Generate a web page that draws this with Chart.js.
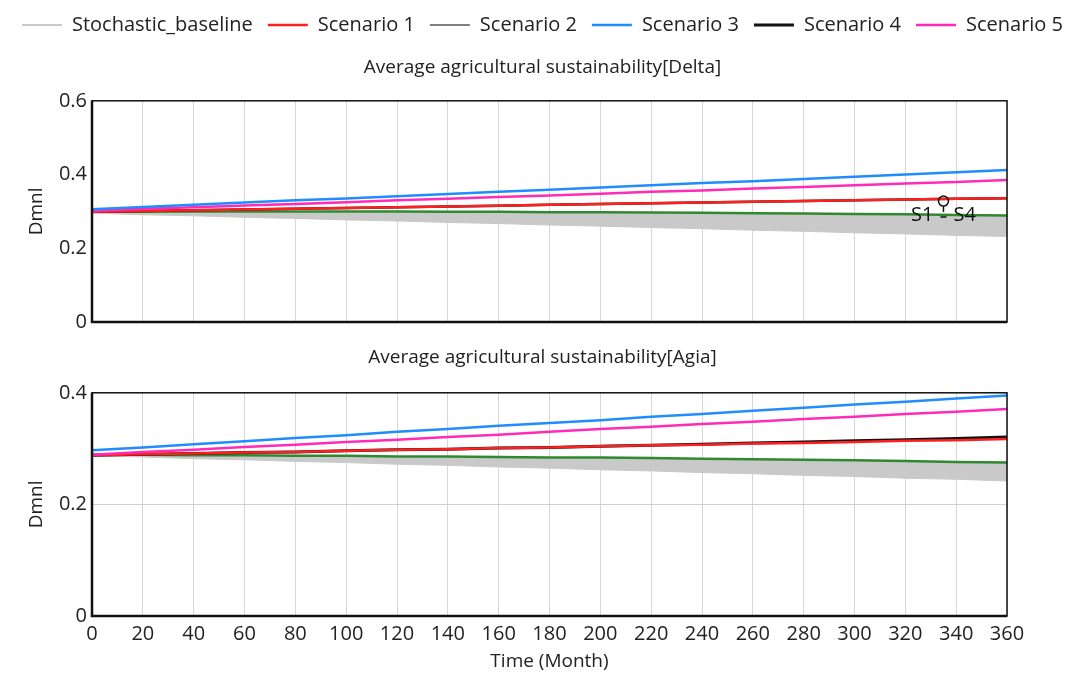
<!DOCTYPE html>
<html>
<head>
<meta charset="utf-8">
<script src="https://cdn.jsdelivr.net/npm/chart.js@4.4.1/dist/chart.umd.min.js"></script>
<style>
  html, body { margin: 0; padding: 0; background: #fff; }
  .panel { position: absolute; left: 0; width: 1085px; }
  #topWrap { top: 0; height: 339px; z-index: 2; }
  #botWrap { top: 335px; height: 338px; z-index: 1; }
</style>
</head>
<body>
<div class="panel" id="topWrap"><canvas id="deltaChart"></canvas></div>
<div class="panel" id="botWrap"><canvas id="agiaChart"></canvas></div>
<script>
const months = [0, 20, 40, 60, 80, 100, 120, 140, 160, 180, 200, 220, 240, 260, 280, 300, 320, 340, 360];
const xTicks = [0, 20, 40, 60, 80, 100, 120, 140, 160, 180, 200, 220, 240, 260, 280, 300, 320, 340, 360];

const legendNames = ['Stochastic_baseline', 'Scenario 1', 'Scenario 2', 'Scenario 3', 'Scenario 4', 'Scenario 5'];

// Delta
const deltaBandHigh = [0.297, 0.297, 0.297, 0.297, 0.297, 0.296, 0.296, 0.296, 0.295, 0.295, 0.294, 0.294, 0.293, 0.292, 0.291, 0.290, 0.289, 0.288, 0.287];
const deltaBandLow = [0.295, 0.291, 0.288, 0.284, 0.281, 0.277, 0.274, 0.270, 0.267, 0.263, 0.260, 0.256, 0.253, 0.249, 0.246, 0.242, 0.239, 0.235, 0.232];
const deltaS1 = [0.299, 0.301, 0.303, 0.305, 0.307, 0.309, 0.311, 0.313, 0.315, 0.318, 0.320, 0.322, 0.324, 0.326, 0.328, 0.330, 0.332, 0.334, 0.336];
const deltaS2 = [0.299, 0.299, 0.300, 0.300, 0.300, 0.300, 0.300, 0.299, 0.299, 0.298, 0.298, 0.297, 0.296, 0.295, 0.294, 0.293, 0.292, 0.290, 0.289];
const deltaS3 = [0.306, 0.312, 0.318, 0.324, 0.330, 0.335, 0.341, 0.347, 0.353, 0.359, 0.365, 0.371, 0.377, 0.382, 0.388, 0.394, 0.400, 0.406, 0.412];
const deltaS4 = [0.299, 0.301, 0.303, 0.305, 0.307, 0.309, 0.311, 0.313, 0.315, 0.318, 0.320, 0.322, 0.324, 0.326, 0.328, 0.330, 0.332, 0.334, 0.336];
const deltaS5 = [0.302, 0.307, 0.311, 0.316, 0.320, 0.325, 0.330, 0.334, 0.339, 0.343, 0.348, 0.353, 0.357, 0.362, 0.366, 0.371, 0.376, 0.380, 0.385];
const deltaYTicks = [0, 0.2, 0.4, 0.6];

// Agia
const agiaBandHigh = [0.288, 0.288, 0.287, 0.287, 0.286, 0.286, 0.285, 0.285, 0.284, 0.283, 0.283, 0.282, 0.281, 0.280, 0.279, 0.278, 0.277, 0.275, 0.274];
const agiaBandLow = [0.287, 0.285, 0.282, 0.280, 0.277, 0.275, 0.272, 0.270, 0.267, 0.265, 0.262, 0.260, 0.257, 0.255, 0.252, 0.250, 0.247, 0.245, 0.242];
const agiaS1 = [0.288, 0.290, 0.291, 0.293, 0.294, 0.296, 0.298, 0.299, 0.301, 0.302, 0.304, 0.306, 0.307, 0.309, 0.310, 0.312, 0.314, 0.315, 0.317];
const agiaS2 = [0.289, 0.289, 0.288, 0.288, 0.287, 0.287, 0.286, 0.286, 0.285, 0.284, 0.284, 0.283, 0.282, 0.281, 0.280, 0.279, 0.278, 0.276, 0.275];
const agiaS3 = [0.297, 0.302, 0.308, 0.313, 0.319, 0.324, 0.330, 0.335, 0.341, 0.346, 0.351, 0.357, 0.362, 0.368, 0.373, 0.379, 0.384, 0.390, 0.395];
const agiaS4 = [0.288, 0.290, 0.291, 0.293, 0.294, 0.296, 0.298, 0.299, 0.301, 0.302, 0.304, 0.306, 0.308, 0.310, 0.312, 0.314, 0.316, 0.318, 0.321];
const agiaS5 = [0.289, 0.294, 0.298, 0.303, 0.307, 0.312, 0.316, 0.321, 0.325, 0.330, 0.335, 0.339, 0.344, 0.348, 0.353, 0.357, 0.362, 0.366, 0.371];
const agiaYTicks = [0, 0.2, 0.4];

const FONT = "'Open Sans', 'Noto Sans', sans-serif";
const colors = {
  band: '#c9c9c9',
  s1: '#ff1f1f',
  s2: '#2f8a2f',
  s3: '#1f8cff',
  s4: '#111111',
  s5: '#ff2bb8'
};
const legendColors = ['#b9b9b9', '#ff1f1f', '#555555', '#1f8cff', '#111111', '#ff2bb8'];
const legendWidths = [1.5, 2.5, 1.5, 2.5, 3, 2.5];

const pts = (vals) => months.map((m, i) => ({ x: m, y: vals[i] }));

function buildDatasets(band, s1, s2, s3, s4, s5, s4Width) {
  // first dataset is painted last (on top)
  return [
    { label: 'Scenario 3', data: pts(s3), borderColor: colors.s3, borderWidth: 2.5 },
    { label: 'Scenario 5', data: pts(s5), borderColor: colors.s5, borderWidth: 2.5 },
    { label: 'Scenario 1', data: pts(s1), borderColor: colors.s1, borderWidth: 2.5 },
    { label: 'Scenario 4', data: pts(s4), borderColor: colors.s4, borderWidth: s4Width },
    { label: 'Scenario 2', data: pts(s2), borderColor: colors.s2, borderWidth: 2.5 },
    { label: 'Stochastic_baseline', data: pts(band[0]), borderColor: colors.band, backgroundColor: colors.band, borderWidth: 1, fill: '+1' },
    { label: 'Stochastic_baseline low', data: pts(band[1]), borderColor: colors.band, borderWidth: 1, fill: false }
  ];
}

const frame = {
  id: 'frame',
  afterDatasetsDraw(chart) {
    const a = chart.chartArea;
    const ctx = chart.ctx;
    ctx.save();
    ctx.strokeStyle = '#111';
    ctx.lineWidth = 1.5;
    ctx.strokeRect(a.left, a.top, a.right - a.left, a.bottom - a.top);
    ctx.lineWidth = 2.5;
    ctx.beginPath();
    ctx.moveTo(a.left, a.top);
    ctx.lineTo(a.left, a.bottom);
    ctx.lineTo(a.right, a.bottom);
    ctx.stroke();
    ctx.restore();
  }
};

const marker = {
  id: 'marker',
  afterDatasetsDraw(chart) {
    if (chart.canvas.id !== 'deltaChart') return;
    const xs = chart.scales.x, ys = chart.scales.y;
    const cx = xs.getPixelForValue(335);
    const cy = ys.getPixelForValue(0.29);
    const ctx = chart.ctx;
    ctx.save();
    ctx.fillStyle = '#111';
    ctx.font = '20px ' + FONT;
    ctx.textBaseline = 'middle';
    ctx.textAlign = 'right';
    ctx.fillText('S1', cx - 10, cy);
    ctx.textAlign = 'left';
    ctx.fillText('S4', cx + 10, cy);
    ctx.strokeStyle = '#111';
    ctx.lineWidth = 1.5;
    ctx.beginPath();
    ctx.arc(cx, cy - 14, 5, 0, Math.PI * 2);
    ctx.moveTo(cx, cy - 9);
    ctx.lineTo(cx, cy - 3);
    ctx.moveTo(cx - 3, cy + 2);
    ctx.lineTo(cx + 3, cy + 2);
    ctx.stroke();
    ctx.restore();
  }
};

function makeOptions(opts) {
  return {
    responsive: true,
    maintainAspectRatio: false,
    animation: false,
    layout: { padding: 0 },
    elements: { point: { radius: 0 }, line: { tension: 0 } },
    plugins: {
      filler: { drawTime: 'beforeDatasetsDraw' },
      tooltip: { enabled: false },
      legend: opts.legend ? {
        display: true,
        position: 'top',
        weight: 3000,
        labels: {
          usePointStyle: true,
          pointStyleWidth: 40,
          boxHeight: 20,
          padding: 15,
          color: '#222',
          font: { family: FONT, size: 20 },
          generateLabels: () => legendNames.map((name, i) => ({
            text: name,
            fillStyle: legendColors[i],
            strokeStyle: legendColors[i],
            lineWidth: legendWidths[i],
            pointStyle: 'line',
            hidden: false,
            fontColor: '#222'
          }))
        }
      } : { display: false },
      title: {
        display: true,
        text: opts.title,
        color: '#222',
        font: { family: FONT, size: 19, weight: 'normal' },
        padding: opts.titlePadding
      }
    },
    scales: {
      x: {
        type: 'linear',
        min: 0,
        max: 360,
        afterBuildTicks: (s) => { s.ticks = xTicks.map(v => ({ value: v })); },
        grid: { color: '#d6d6d6', lineWidth: 1, drawTicks: false },
        border: { display: false },
        ticks: {
          display: opts.showX,
          color: '#222',
          font: { family: FONT, size: 20 },
          padding: 6,
          maxRotation: 0,
          autoSkip: false
        },
        title: {
          display: opts.showX,
          text: 'Time (Month)',
          color: '#222',
          font: { family: FONT, size: 19 },
          padding: { top: 0, bottom: 0 }
        },
        afterFit: (s) => { s.height = opts.xHeight; }
      },
      y: {
        min: 0,
        max: opts.yMax,
        afterBuildTicks: (s) => { s.ticks = opts.yTicks.map(v => ({ value: v })); },
        grid: { display: opts.yGrid, color: '#d0d0d8', drawTicks: false },
        border: { display: false },
        ticks: {
          color: '#222',
          font: { family: FONT, size: 20 },
          padding: 5,
          callback: (v) => v === 0 ? '0' : v.toFixed(1)
        },
        title: {
          display: true,
          text: 'Dmnl',
          color: '#222',
          font: { family: FONT, size: 19 },
          padding: { top: 25, bottom: 0 }
        },
        afterFit: (s) => { s.width = 92; }
      },
      yRight: {
        position: 'right',
        display: true,
        grid: { display: false },
        border: { display: false },
        ticks: { display: false },
        afterFit: (s) => { s.width = 78; }
      }
    }
  };
}

new Chart(document.getElementById('deltaChart'), {
  type: 'line',
  data: { datasets: buildDatasets([deltaBandHigh, deltaBandLow], deltaS1, deltaS2, deltaS3, deltaS4, deltaS5, 2.5) },
  options: makeOptions({
    legend: true,
    title: 'Average agricultural sustainability[Delta]',
    titlePadding: { top: 11, bottom: 22 },
    showX: false,
    xHeight: 13,
    yMax: 0.6,
    yTicks: deltaYTicks,
    yGrid: false
  }),
  plugins: [frame, marker]
});

new Chart(document.getElementById('agiaChart'), {
  type: 'line',
  data: { datasets: buildDatasets([agiaBandHigh, agiaBandLow], agiaS1, agiaS2, agiaS3, agiaS4, agiaS5, 3) },
  options: makeOptions({
    legend: false,
    title: 'Average agricultural sustainability[Agia]',
    titlePadding: { top: 11, bottom: 24 },
    showX: true,
    xHeight: 57,
    yMax: 0.4,
    yTicks: agiaYTicks,
    yGrid: true
  }),
  plugins: [frame]
});
</script>
</body>
</html>
